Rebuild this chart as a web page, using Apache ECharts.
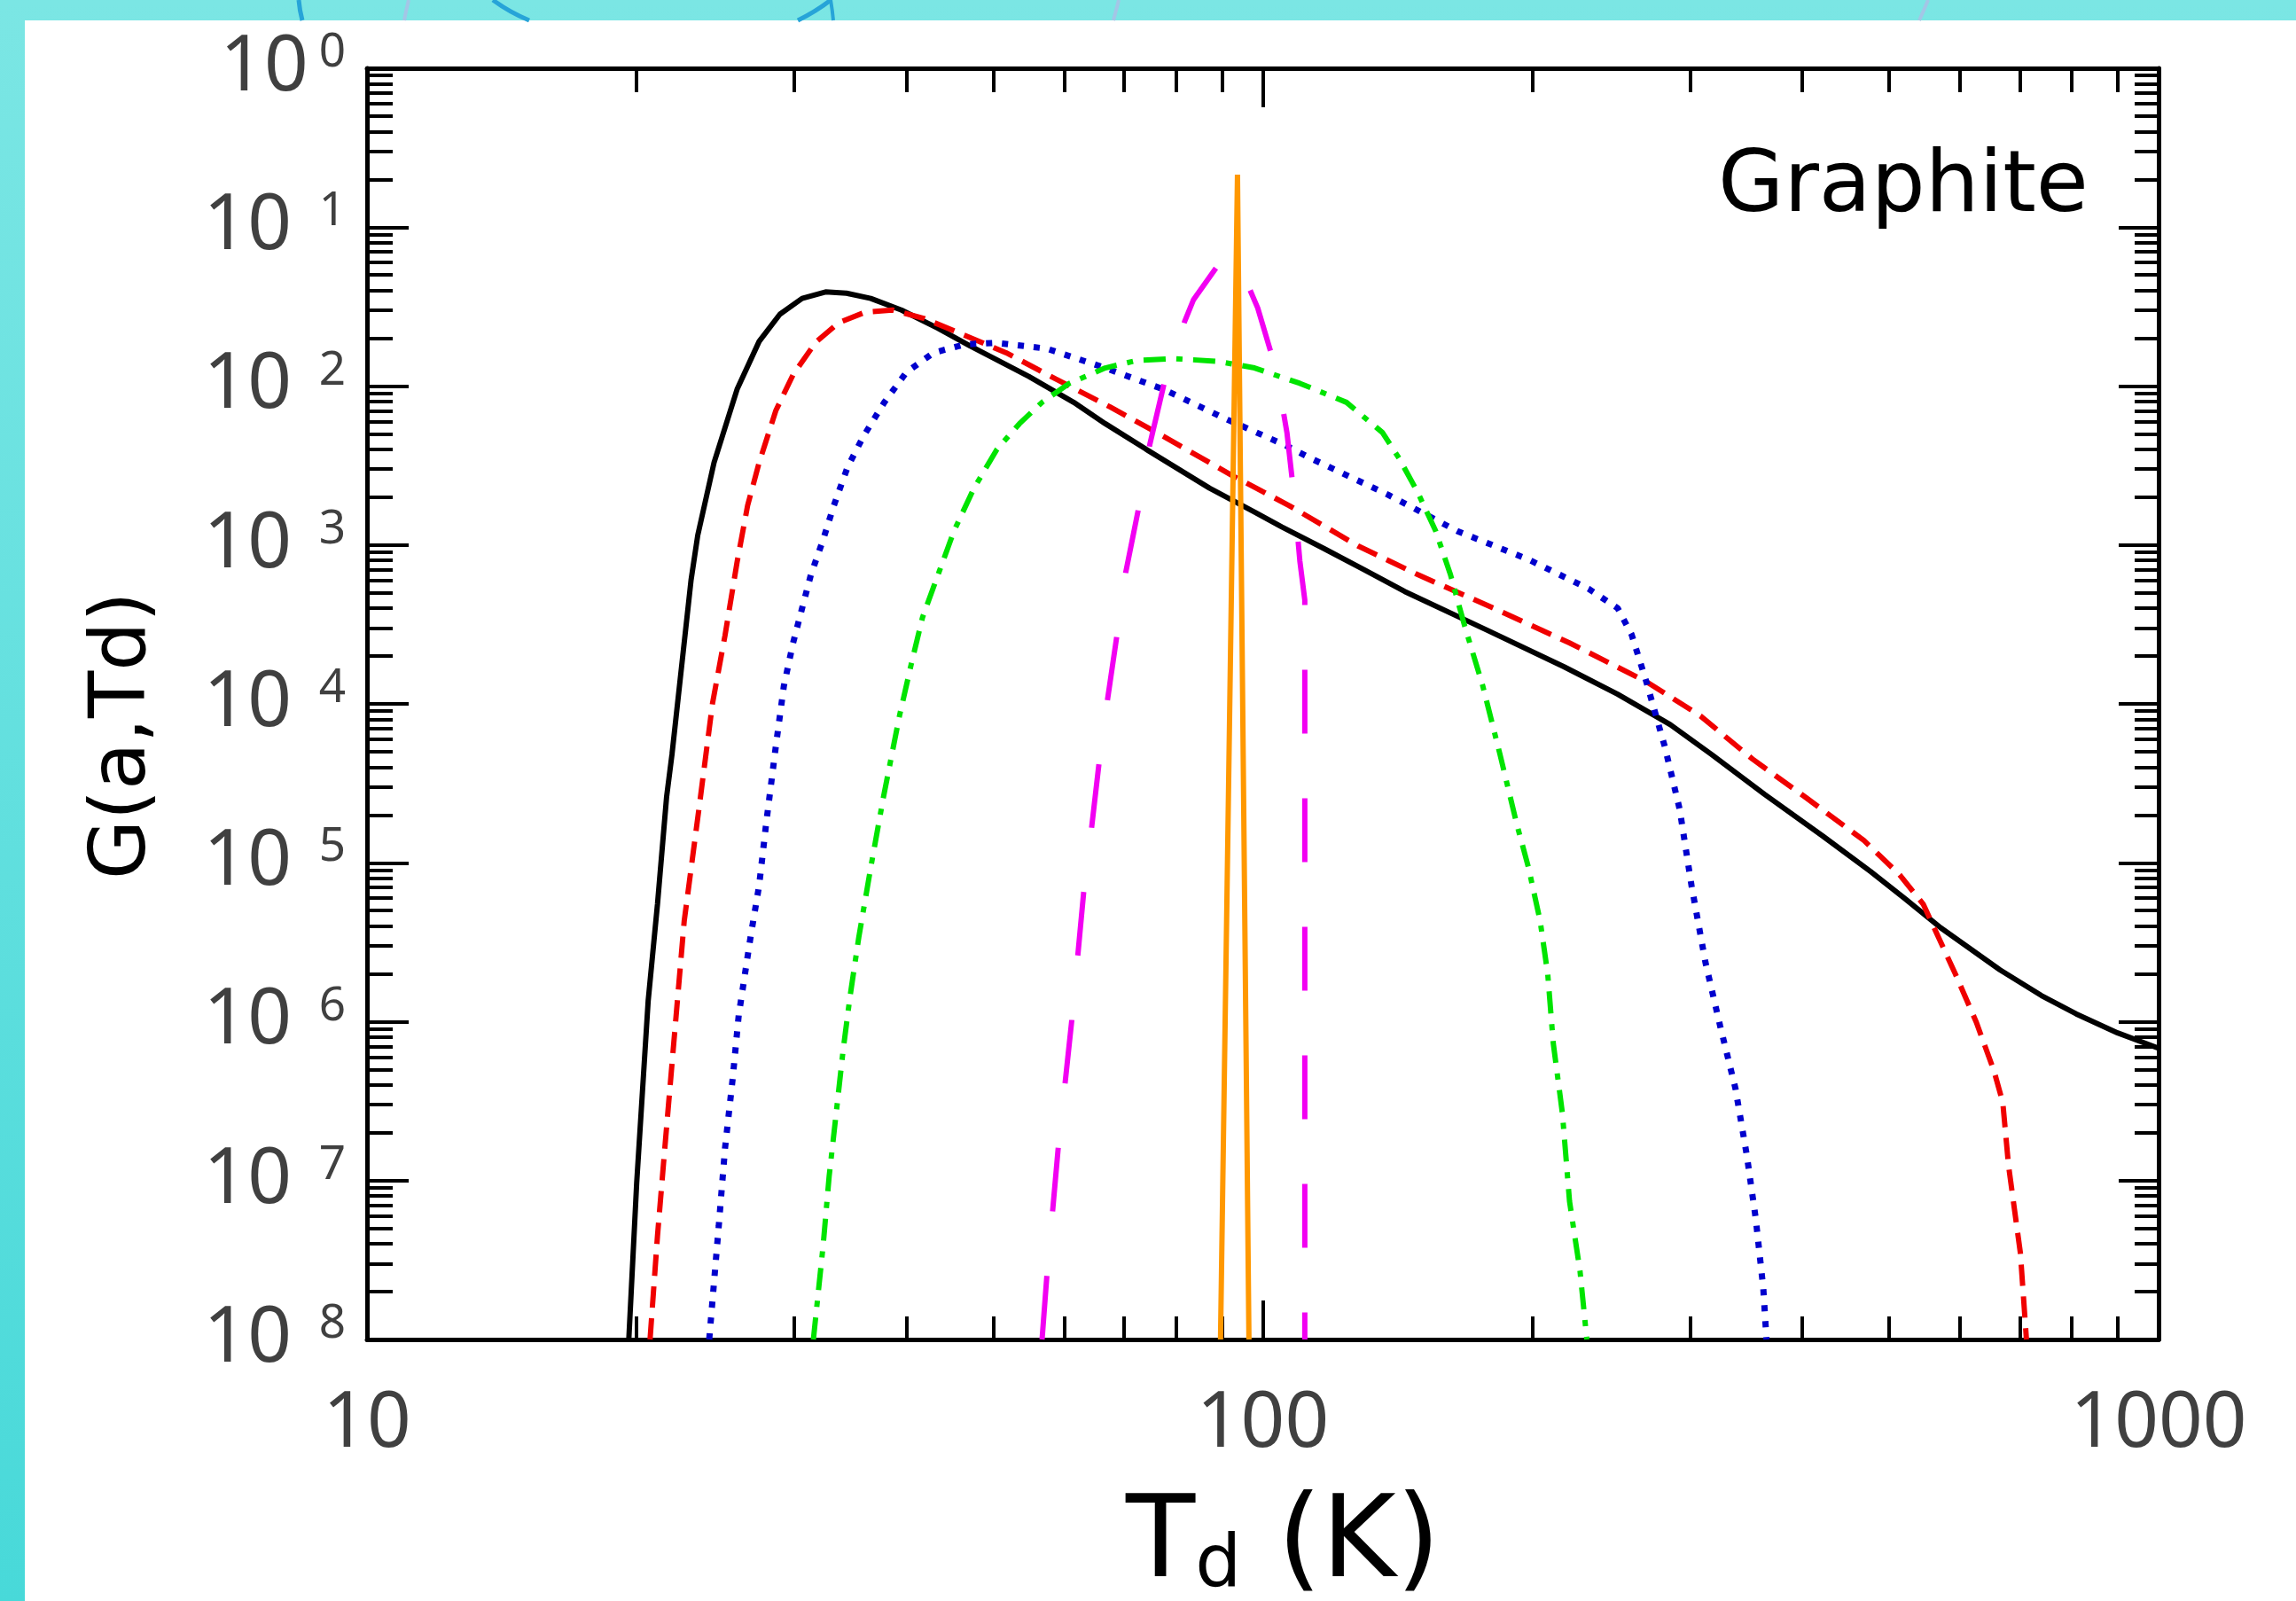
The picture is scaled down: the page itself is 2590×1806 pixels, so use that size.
<!DOCTYPE html>
<html>
<head>
<meta charset="utf-8">
<title>Graphite G(a,Td)</title>
<script src="https://cdn.jsdelivr.net/npm/echarts@6/dist/echarts.min.js"></script>
<style>
html, body { margin: 0; padding: 0; }
body { background: linear-gradient(to bottom, #7be6e4, #48d9d9); }
#main { width: 2590px; height: 1806px; }
</style>
</head>
<body>
<div id="main"></div>
<script>
// G(a,Td), one curve per grain size
var tBlack = [19.6, 20.0, 20.6, 21.1, 21.6, 21.9, 23.0, 23.4, 24.4, 25.9, 27.4, 28.9, 30.6, 32.5, 34.3, 36.5, 39.5, 43.4, 47.1, 54.8, 61.5, 66.7, 74.1, 87.2, 97.9, 105, 117, 130, 144, 178, 217, 249, 285, 317, 363, 422, 477, 522, 571, 665, 740, 809, 900, 1000];
var gBlack = [1e-8, 9.6e-8, 1.35e-6, 5.5e-6, 2.6e-5, 4.8e-5, 6.0e-4, 1.15e-3, 3.3e-3, 9.6e-3, 1.91e-2, 2.83e-2, 3.56e-2, 3.91e-2, 3.84e-2, 3.56e-2, 3.01e-2, 2.31e-2, 1.79e-2, 1.15e-2, 7.9e-3, 5.8e-3, 4.0e-3, 2.28e-3, 1.61e-3, 1.30e-3, 9.5e-4, 6.95e-4, 5.1e-4, 2.91e-4, 1.71e-4, 1.15e-4, 7.4e-5, 4.8e-5, 2.7e-5, 1.47e-5, 8.8e-6, 5.9e-6, 3.9e-6, 2.12e-6, 1.46e-6, 1.12e-6, 8.5e-7, 6.8e-7];

var tRed = [20.7, 21.1, 21.5, 22.0, 22.6, 23.5, 24.3, 25.1, 25.9, 26.6, 27.4, 28.6, 29.9, 31.7, 33.6, 36.0, 38.6, 41.9, 46.0, 51.7, 58.7, 67.5, 77.6, 92.4, 107, 128, 149, 181, 220, 268, 308, 352, 404, 469, 514, 546, 593, 626, 655, 670, 680, 701, 712];
var gRed = [1e-8, 4.5e-8, 1.6e-7, 7.3e-7, 4.3e-6, 2.3e-5, 1.0e-4, 2.7e-4, 7.9e-4, 1.77e-3, 3.3e-3, 7.0e-3, 1.18e-2, 1.89e-2, 2.5e-2, 2.92e-2, 3.01e-2, 2.66e-2, 2.14e-2, 1.62e-2, 1.11e-2, 7.4e-3, 4.8e-3, 2.74e-3, 1.77e-3, 9.8e-4, 6.5e-4, 4.0e-4, 2.42e-4, 1.38e-4, 8.4e-5, 4.5e-5, 2.57e-5, 1.38e-5, 8.4e-6, 5.5e-6, 2.0e-6, 9.9e-7, 4.9e-7, 3.1e-7, 1.24e-7, 3.5e-8, 1e-8];

var tBlue = [24.1, 24.7, 25.1, 25.6, 26.0, 26.8, 27.4, 27.9, 28.6, 29.2, 29.9, 30.6, 31.3, 32.3, 33.2, 34.4, 35.8, 37.8, 40.0, 42.9, 46.5, 50.5, 57.4, 66.7, 77.6, 91.3, 106, 113, 138, 165, 198, 231, 249, 258, 268, 281, 292, 301, 312, 324, 337, 347, 355, 362, 365];
var gBlue = [1e-8, 5.2e-8, 1.6e-7, 4.4e-7, 1.1e-6, 3.4e-6, 7.2e-6, 1.77e-5, 5.4e-5, 1.3e-4, 2.42e-4, 4.0e-4, 6.5e-4, 1.08e-3, 1.77e-3, 3.1e-3, 4.8e-3, 7.9e-3, 1.22e-2, 1.62e-2, 1.83e-2, 1.87e-2, 1.72e-2, 1.3e-2, 9.5e-3, 6.15e-3, 4.24e-3, 3.52e-3, 2.07e-3, 1.22e-3, 8.1e-4, 5.3e-4, 4.0e-4, 2.74e-4, 1.38e-4, 5.4e-5, 2.17e-5, 7.2e-6, 2.36e-6, 9.4e-7, 3.8e-7, 1.44e-7, 5.8e-8, 2.1e-8, 1e-8];

var tGreen = [31.5, 32.3, 32.8, 33.4, 34.0, 34.6, 35.4, 36.5, 37.7, 39.3, 40.5, 41.7, 43.4, 45.2, 47.6, 50.5, 53.5, 56.7, 60.8, 66.7, 72.4, 79.4, 89.2, 97.9, 110, 124, 136, 142, 149, 156, 162, 168, 176, 184, 192, 198, 204, 208, 211, 216, 220, 226, 230];
var gGreen = [1e-8, 3.9e-8, 1.06e-7, 2.65e-7, 6.6e-7, 1.42e-6, 3.4e-6, 9.3e-6, 2.56e-5, 8.4e-5, 1.77e-4, 3.5e-4, 6.5e-4, 1.22e-3, 2.28e-3, 4.0e-3, 5.8e-3, 7.9e-3, 1.04e-2, 1.3e-2, 1.45e-2, 1.49e-2, 1.43e-2, 1.3e-2, 1.04e-2, 7.9e-3, 5.1e-3, 3.5e-3, 2.13e-3, 1.22e-3, 6.5e-4, 3.1e-4, 1.3e-4, 4.8e-5, 1.77e-5, 9.3e-6, 4.3e-6, 2.0e-6, 7.3e-7, 2.65e-7, 7.4e-8, 2.7e-8, 1e-8];

var tMagenta = [56.7, 57.4, 59.1, 61.2, 63.1, 64.4, 65.6, 67.1, 68.7, 70.3, 72.6, 74.8, 77.6, 81.8, 83.7, 88.8, 92.9, 98.7, 103.5, 106.4, 108.4, 110.0, 111.4, 111.4];
var gMagenta = [1e-8, 2.5e-8, 1.6e-7, 1.02e-6, 6.5e-6, 1.66e-5, 4.1e-5, 1.07e-4, 2.65e-4, 6.7e-4, 1.66e-3, 4.3e-3, 1.04e-2, 2.55e-2, 3.5e-2, 5.6e-2, 6.9e-2, 3.1e-2, 1.26e-2, 5.1e-3, 2.0e-3, 7.9e-4, 4.5e-4, 1e-8];

var tOrange = [89.7, 93.7, 96.5];
var gOrange = [1e-8, 0.214, 1e-8];

// tick labels
var xTickLabels = ['10', '100', '1000'];
var yExpLabels = ['8', '7', '6', '5', '4', '3', '2', '1', '0']; // 10^-8 .. 10^0, minus sign is missing in the original
var xMinorTicks = [20, 30, 40, 50, 60, 70, 80, 90, 200, 300, 400, 500, 600, 700, 800, 900];
var yMinorTicks = [];
for (var e = -8; e < 0; e++) {
	for (var k = 2; k <= 9; k++) {
		yMinorTicks.push(k * Math.pow(10, e));
	}
}

function pairs(t, g) {
	return t.map(function (v, i) { return [v, g[i]]; });
}
function lg(v) { return Math.log10(v); }

var chart = echarts.init(document.getElementById('main'));

var labelFont = 'Noto Sans';
var titleFont = 'DejaVu Sans';
var lineW = 5, tickW = 4;

// helper axes in log10 space, only for the ticks / labels / frame
function tickAxis(pos, min, max, opts) {
	return {
		type: 'value',
		position: pos,
		min: min,
		max: max,
		interval: opts.interval,
		axisLine: { show: !!opts.line, onZero: false, lineStyle: { color: '#000', width: lineW } },
		axisTick: {
			show: true, inside: true, length: opts.len, customValues: opts.custom,
			lineStyle: { color: '#000', width: tickW }
		},
		axisLabel: opts.label || { show: false },
		splitLine: { show: false }
	};
}

var yLabel = {
	show: true,
	margin: 24,
	color: '#404040',
	fontSize: 87,
	fontFamily: labelFont,
	formatter: function (v) {
		var ex = yExpLabels[Math.round(v) + 8];
		return ex === '0' ? '{m|10}{z|0}' : '{m|10} {s|' + ex + '}';
	},
	rich: {
		m: { fontSize: 87, lineHeight: 87, fontFamily: labelFont, color: '#404040' },
		s: { fontSize: 53, lineHeight: 48, verticalAlign: 'top', padding: [0, 0, 0, 8], fontFamily: labelFont, color: '#404040' },
		z: { fontSize: 53, lineHeight: 48, verticalAlign: 'top', padding: [0, 0, 0, 12], fontFamily: labelFont, color: '#404040' }
	}
};
var xLabel = {
	show: true,
	margin: 53,
	color: '#404040',
	fontSize: 87,
	fontFamily: labelFont,
	formatter: function (v) { return xTickLabels[Math.round(v) - 1]; }
};

var xMinorLog = xMinorTicks.map(lg);
var yMinorLog = yMinorTicks.map(lg);

var option = {
	animation: false,
	grid: { left: 414, top: 77, width: 2021, height: 1434 },
	xAxis: [
		{ type: 'log', logBase: 10, min: 10, max: 1000, show: false },
		tickAxis('bottom', 1, 3, { interval: 1, len: 44, line: true, label: xLabel }),
		tickAxis('bottom', 1, 3, { len: 26, custom: xMinorLog }),
		tickAxis('top', 1, 3, { interval: 1, len: 44, line: true }),
		tickAxis('top', 1, 3, { len: 27, custom: xMinorLog })
	],
	yAxis: [
		{ type: 'log', logBase: 10, min: 1e-8, max: 1, show: false },
		tickAxis('left', -8, 0, { interval: 1, len: 47, line: true, label: yLabel }),
		tickAxis('left', -8, 0, { len: 29, custom: yMinorLog }),
		tickAxis('right', -8, 0, { interval: 1, len: 45, line: true }),
		tickAxis('right', -8, 0, { len: 27, custom: yMinorLog })
	],
	series: [
		{
			name: 'black', type: 'line', data: pairs(tBlack, gBlack), symbol: 'none',
			lineStyle: { color: '#000000', width: 6 }
		},
		{
			name: 'red', type: 'line', data: pairs(tRed, gRed), symbol: 'none',
			lineStyle: { color: '#f00000', width: 6, type: [24, 12] }
		},
		{
			name: 'blue', type: 'line', data: pairs(tBlue, gBlue), symbol: 'none',
			lineStyle: { color: '#0000cd', width: 7, type: [7, 11] }
		},
		{
			name: 'green', type: 'line', data: pairs(tGreen, gGreen), symbol: 'none',
			lineStyle: { color: '#00e400', width: 6, type: [25, 12, 7, 12] }
		},
		{
			name: 'magenta', type: 'line', data: pairs(tMagenta, gMagenta), symbol: 'none',
			lineStyle: { color: '#f200f2', width: 6, type: [72, 73] }
		},
		{
			name: 'orange', type: 'line', data: pairs(tOrange, gOrange), symbol: 'none',
			lineStyle: { color: '#ff9800', width: 6 }
		}
	],
	graphic: [
		// white panel over the teal page
		{ type: 'rect', z: -100, silent: true, shape: { x: 28, y: 23, width: 2562, height: 1783 }, style: { fill: '#ffffff' } },
		// bits of the decoration showing in the teal band
		{ type: 'bezierCurve', z: -50, silent: true, shape: { x1: 337, y1: 0, x2: 341, y2: 23, cpx1: 338, cpy1: 12 }, style: { stroke: '#27a4d8', lineWidth: 5, fill: null } },
		{ type: 'bezierCurve', z: -50, silent: true, shape: { x1: 461, y1: 0, x2: 456, y2: 23, cpx1: 458, cpy1: 12 }, style: { stroke: '#a3c6e6', lineWidth: 4, fill: null } },
		{ type: 'bezierCurve', z: -50, silent: true, shape: { x1: 556, y1: 0, x2: 597, y2: 23, cpx1: 575, cpy1: 14 }, style: { stroke: '#27a4d8', lineWidth: 5, fill: null } },
		{ type: 'bezierCurve', z: -50, silent: true, shape: { x1: 937, y1: 0, x2: 900, y2: 23, cpx1: 922, cpy1: 12 }, style: { stroke: '#27a4d8', lineWidth: 5, fill: null } },
		{ type: 'bezierCurve', z: -50, silent: true, shape: { x1: 937, y1: 0, x2: 940, y2: 23, cpx1: 939, cpy1: 12 }, style: { stroke: '#27a4d8', lineWidth: 4, fill: null } },
		{ type: 'bezierCurve', z: -50, silent: true, shape: { x1: 1262, y1: 0, x2: 1256, y2: 23, cpx1: 1259, cpy1: 12 }, style: { stroke: '#a3c6e6', lineWidth: 4, fill: null } },
		{ type: 'bezierCurve', z: -50, silent: true, shape: { x1: 2175, y1: 0, x2: 2165, y2: 23, cpx1: 2170, cpy1: 12 }, style: { stroke: '#a3c6e6', lineWidth: 4, fill: null } },
		// axis titles and the panel label
		{
			type: 'text', x: 140, y: 830, rotation: Math.PI / 2, silent: true,
			style: { text: 'G(a,Td)', font: '87px "' + titleFont + '"', fill: '#000', align: 'center', verticalAlign: 'middle', textAlign: 'center', textVerticalAlign: 'middle' }
		},
		{
			type: 'text', x: 1270, y: 1745, silent: true,
			style: {
				text: '{t|T}{d|d}{t| (K)}', align: 'left', verticalAlign: 'middle', textAlign: 'left', textVerticalAlign: 'middle',
				rich: {
					t: { fontSize: 128, lineHeight: 128, fontFamily: titleFont, fill: '#000' },
					d: { fontSize: 82, lineHeight: 67, verticalAlign: 'bottom', fontFamily: titleFont, fill: '#000' }
				}
			}
		},
		{
			type: 'text', x: 1938, y: 213, silent: true,
			style: { text: 'Graphite', font: '96px "' + titleFont + '"', fill: '#000', align: 'left', verticalAlign: 'middle', textAlign: 'left', textVerticalAlign: 'middle' }
		}
	]
};

chart.setOption(option);
</script>
</body>
</html>
